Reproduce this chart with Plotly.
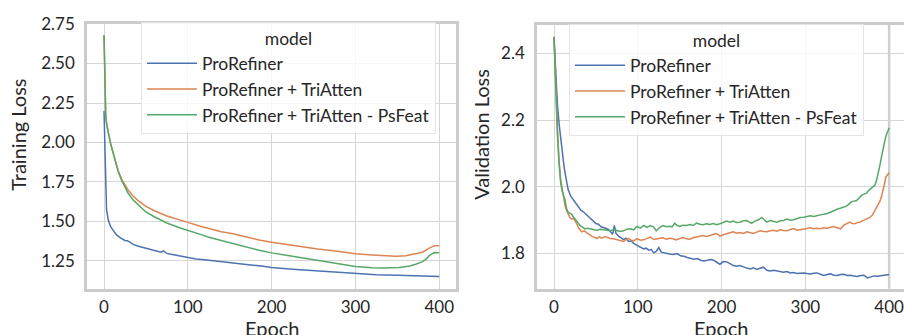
import plotly.graph_objects as go

# ---------------- data ----------------
names = ["ProRefiner", "ProRefiner + TriAtten", "ProRefiner + TriAtten - PsFeat"]
colors = ["#4c72b0", "#dd8452", "#55a868"]

# Training loss
tr_blue_ep = [0, 1, 2, 3, 4, 5, 8, 10, 13, 15, 20, 25, 28, 30, 35, 40, 45, 50, 55, 60, 65, 68, 70, 71, 73, 75, 80, 90,
              100, 110, 120, 130, 140, 150, 160, 175, 190, 200, 225, 250, 275, 300, 325, 350, 375, 400]
tr_blue = [2.199, 1.95, 1.62, 1.575, 1.545, 1.51, 1.465, 1.45, 1.425, 1.415, 1.395, 1.38, 1.378, 1.37, 1.355, 1.345,
           1.338, 1.33, 1.322, 1.315, 1.31, 1.305, 1.31, 1.315, 1.305, 1.298, 1.292, 1.282,
           1.272, 1.263, 1.257, 1.252, 1.246, 1.24, 1.233, 1.225, 1.216, 1.209, 1.198, 1.189, 1.178, 1.169, 1.163,
           1.159, 1.156, 1.152]

tr_orange_ep = [0, 1, 2, 3, 5, 8, 10, 13, 17, 21, 25, 29, 35, 40, 50, 60, 75, 90, 100, 115, 125, 140, 154, 170, 185,
                200, 215, 234, 255, 274, 300, 320, 332, 348, 360, 372, 380, 388, 394, 400]
tr_orange = [2.679, 2.30, 2.18, 2.12, 2.06, 1.99, 1.951, 1.89, 1.82, 1.768, 1.728, 1.697, 1.66, 1.635, 1.596, 1.568,
             1.535, 1.508, 1.494, 1.4695, 1.455, 1.435, 1.4226, 1.40, 1.383, 1.368, 1.356, 1.341, 1.326, 1.315,
             1.296, 1.288, 1.284, 1.28, 1.283, 1.294, 1.305, 1.331, 1.345, 1.347]

tr_green_ep = [0, 1, 2, 3, 5, 8, 10, 13, 17, 21, 25, 29, 35, 40, 50, 60, 75, 90, 100, 115, 125, 140, 154, 170, 185,
               200, 215, 234, 255, 274, 300, 320, 332, 352, 365, 372, 380, 385, 388, 394, 400]
tr_green = [2.679, 2.30, 2.18, 2.12, 2.06, 1.99, 1.951, 1.885, 1.815, 1.76, 1.717, 1.677, 1.635, 1.61, 1.56, 1.53,
            1.49, 1.46, 1.445, 1.418, 1.40, 1.38, 1.357, 1.336, 1.318, 1.301, 1.288, 1.27, 1.253, 1.235, 1.215,
            1.207, 1.205, 1.208, 1.218, 1.229, 1.246, 1.265, 1.284, 1.303, 1.302]

# Validation loss
va_blue_ep = [0, 2, 4, 6, 8, 10, 12, 14, 17, 20, 23, 26, 29, 32, 35, 38, 41, 44, 47, 50, 53, 56, 59, 62, 65, 68, 70,
              72, 74, 77, 80, 83, 86, 89, 92, 95, 98, 101, 104, 107, 110, 113, 116, 119, 122, 125, 128, 131, 135,
              139, 143, 147, 151, 155, 159, 163, 167, 171, 175, 179, 183, 187, 191, 195, 198, 202, 206, 210, 214,
              218, 222, 226, 230, 234, 238, 242, 246, 250, 254, 258, 262, 266, 270, 274, 278, 282, 286, 290, 294,
              298, 302, 306, 310, 314, 318, 322, 326, 330, 334, 338, 342, 346, 350, 354, 358, 362, 366, 370, 374,
              378, 382, 386, 390, 394, 398, 400]
va_blue = [2.449, 2.33, 2.25, 2.19, 2.14, 2.10, 2.06, 2.03, 1.99, 1.972, 1.962, 1.952, 1.940, 1.930, 1.925, 1.918,
           1.912, 1.905, 1.898, 1.890, 1.888, 1.880, 1.878, 1.874, 1.872, 1.864, 1.858,
           1.884, 1.860, 1.852, 1.848, 1.842, 1.846, 1.836, 1.838, 1.830, 1.826, 1.822, 1.818, 1.814, 1.816, 1.810,
           1.812, 1.802, 1.806, 1.818, 1.804, 1.802, 1.800,
           1.798, 1.797, 1.800, 1.793, 1.792, 1.788, 1.786, 1.783, 1.785, 1.780, 1.778, 1.780, 1.782, 1.779, 1.772,
           1.768, 1.776, 1.775, 1.770, 1.764,
           1.762, 1.764, 1.760, 1.758, 1.754, 1.757, 1.752, 1.756, 1.759, 1.750, 1.748, 1.750, 1.748, 1.746, 1.744,
           1.746, 1.742, 1.743, 1.740, 1.741,
           1.742, 1.740, 1.739, 1.741, 1.742, 1.738, 1.734, 1.737, 1.739, 1.735, 1.734, 1.737, 1.738, 1.734, 1.735,
           1.733, 1.731, 1.734, 1.735, 1.727,
           1.731, 1.733, 1.732, 1.734, 1.735, 1.736, 1.737]

va_orange_ep = [0, 2, 4, 6, 8, 11, 13, 15, 17, 19, 21, 23, 25, 27, 29, 31, 33, 36, 39, 42, 45, 48, 51, 54, 57, 61,
                64, 67, 71, 75, 79, 83, 86, 89, 92, 95, 99, 103, 107, 111, 115, 119, 123, 127, 130, 134, 138, 142,
                146, 150, 154, 158, 162, 166, 170, 174, 178, 182, 186, 190, 194, 198, 202, 206, 210, 214, 218, 222,
                226, 230, 234, 238, 242, 246, 250, 254, 258, 262, 266, 270, 274, 278, 282, 286, 290, 294, 298, 302,
                306, 310, 314, 318, 322, 326, 330, 334, 338, 342, 346, 350, 353, 356, 359, 362, 365, 368, 371, 374,
                377, 380, 383, 386, 389, 391, 393, 395, 396, 398, 400]
va_orange = [2.449, 2.30, 2.18, 2.08, 2.02, 1.976, 1.945, 1.928, 1.915, 1.908, 1.903, 1.906, 1.899, 1.888, 1.879,
             1.872, 1.865, 1.868, 1.863, 1.856, 1.852, 1.849, 1.845, 1.850, 1.846, 1.851,
             1.847, 1.845, 1.844, 1.841, 1.838, 1.836, 1.842, 1.845, 1.840, 1.838, 1.845, 1.840, 1.841, 1.844, 1.849,
             1.842, 1.843, 1.846, 1.847, 1.843, 1.846, 1.844,
             1.841, 1.845, 1.848, 1.844, 1.843, 1.847, 1.849, 1.852, 1.854, 1.851, 1.853, 1.857, 1.860, 1.852, 1.856,
             1.860, 1.862, 1.865, 1.861, 1.863,
             1.860, 1.865, 1.863, 1.860, 1.864, 1.868, 1.866, 1.865, 1.868, 1.870, 1.867, 1.871, 1.869, 1.868, 1.872,
             1.875, 1.870, 1.871, 1.874, 1.875,
             1.877, 1.874, 1.876, 1.874, 1.877, 1.876, 1.879, 1.881, 1.877, 1.874, 1.885, 1.889, 1.894, 1.890, 1.889,
             1.893, 1.894, 1.898, 1.901, 1.904,
             1.908, 1.915, 1.928, 1.942, 1.957, 1.972, 1.990, 2.015, 2.029, 2.037, 2.042]

va_green_ep = [0, 2, 4, 6, 8, 10, 13, 15, 17, 19, 21, 23, 25, 28, 31, 34, 37, 40, 43, 47, 51, 55, 59, 63, 67, 71, 75,
               79, 83, 87, 91, 95, 99, 103, 107, 111, 115, 119, 122, 126, 130, 134, 138, 141, 144, 147, 150, 154, 158,
               162, 166, 170, 174, 178, 182, 186, 190, 194, 198, 202, 206, 210, 214, 218, 222, 226, 230, 234, 236,
               240, 244, 248, 251, 254, 258, 262, 266, 270, 274, 278, 282, 286, 290, 294, 298, 302, 306, 310, 314,
               318, 322, 326, 330, 334, 337, 340, 343, 346, 349, 352, 355, 358, 361, 364, 367, 370, 373, 376, 379,
               383, 385, 387, 389, 391, 393, 395, 397, 399, 400]
va_green = [2.449, 2.28, 2.16, 2.07, 2.01, 1.985, 1.961, 1.935, 1.923, 1.920, 1.918, 1.910, 1.903, 1.893, 1.884, 1.879,
            1.874, 1.876, 1.874, 1.872, 1.870, 1.873, 1.871, 1.869, 1.868, 1.872, 1.869,
            1.866, 1.868, 1.873, 1.874, 1.871, 1.881, 1.876, 1.884, 1.878, 1.884, 1.879, 1.868, 1.878, 1.884, 1.880,
            1.882, 1.880, 1.891, 1.884, 1.881, 1.885, 1.884,
            1.887, 1.884, 1.891, 1.888, 1.886, 1.889, 1.887, 1.890, 1.886, 1.889, 1.893, 1.897, 1.894, 1.897, 1.893,
            1.894, 1.898, 1.899, 1.893, 1.891,
            1.897, 1.901, 1.908, 1.900, 1.894, 1.899, 1.897, 1.894, 1.898, 1.899, 1.903, 1.900, 1.901, 1.905, 1.908,
            1.909, 1.910, 1.913, 1.911, 1.914,
            1.916, 1.918, 1.920, 1.923, 1.928, 1.932, 1.934, 1.937, 1.940, 1.942, 1.948, 1.955, 1.957, 1.959, 1.966,
            1.974, 1.978, 1.981, 1.990, 1.997,
            2.005, 2.020, 2.039, 2.065, 2.092, 2.118, 2.140, 2.158, 2.171, 2.176]

x_ticks = [0, 100, 200, 300, 400]
tr_ticks = [1.25, 1.50, 1.75, 2.00, 2.25, 2.50, 2.75]
va_ticks = [1.8, 2.0, 2.2, 2.4]

# ---------------- figure ----------------
W, H = 904, 335
FONT = "Lato"
TXT = "#262626"
GRID = "#d6d6d6"
FRAME = "#cccccc"

fig = go.Figure()

train_sets = [(tr_blue_ep, tr_blue), (tr_orange_ep, tr_orange), (tr_green_ep, tr_green)]
val_sets = [(va_blue_ep, va_blue), (va_orange_ep, va_orange), (va_green_ep, va_green)]

for i, (ex, ey) in enumerate(train_sets):
    fig.add_trace(go.Scatter(x=ex, y=ey, mode="lines", name=names[i],
                             line=dict(color=colors[i], width=1.5),
                             xaxis="x", yaxis="y", legend="legend",
                             legendgroup="a%d" % i))
for i, (ex, ey) in enumerate(val_sets):
    fig.add_trace(go.Scatter(x=ex, y=ey, mode="lines", name=names[i],
                             line=dict(color=colors[i], width=1.5),
                             xaxis="x2", yaxis="y2", legend="legend2",
                             legendgroup="b%d" % i))

def px_x(p):
    return p / W

def px_y(p):
    return 1 - p / H

axis_common = dict(showgrid=True, gridcolor=GRID, gridwidth=1.2, zeroline=False,
                   ticks="", showline=True, linecolor=FRAME, linewidth=2.5,
                   ticklabeloverflow="allow",
                   tickfont=dict(family=FONT, size=17, color=TXT))

legend_common = dict(bgcolor="rgba(255,255,255,0.8)", bordercolor="#e4e4e4", borderwidth=1,
                     font=dict(family=FONT, size=17.5, color=TXT),
                     title=dict(text="model", side="top center", font=dict(family=FONT, size=17.5, color=TXT)),
                     xanchor="left", yanchor="top", itemwidth=50, tracegroupgap=0)

fig.update_layout(
    width=W, height=H,
    margin=dict(l=0, r=0, t=0, b=0),
    paper_bgcolor="white", plot_bgcolor="white",
    font=dict(family=FONT, size=17, color=TXT),
    xaxis=dict(domain=[px_x(87), px_x(456)], range=[-20.3, 420], tickvals=x_ticks, mirror=True,
               anchor="y", ticklabelstandoff=1, **axis_common),
    yaxis=dict(domain=[px_y(287), px_y(13)], range=[1.075, 2.753], tickvals=tr_ticks, tickformat=".2f",
               mirror=True, anchor="x", ticklabelstandoff=6, **axis_common),
    xaxis2=dict(domain=[px_x(537), 1.0], range=[-20.3, 417.7], tickvals=x_ticks, mirror=True,
                anchor="y2", ticklabelstandoff=1, **axis_common),
    yaxis2=dict(domain=[px_y(287), px_y(14)], range=[1.695, 2.486], tickvals=va_ticks, tickformat=".1f",
                mirror=False, anchor="x2", ticklabelstandoff=6, **axis_common),
    legend=dict(x=px_x(141), y=px_y(11), **legend_common),
    legend2=dict(x=px_x(569), y=px_y(13), **legend_common),
    showlegend=True,
)

# right-hand gridline at 400 in the right panel appears heavier
fig.add_shape(type="line", xref="x2", yref="y2 domain", x0=400, x1=400, y0=0, y1=1,
              line=dict(color=FRAME, width=2.5), layer="below")

ann_font = dict(family=FONT, size=20, color=TXT)
fig.add_annotation(text="Training Loss", xref="paper", yref="paper", x=px_x(18), y=px_y(128),
                   textangle=-90, showarrow=False, xanchor="center", yanchor="middle", font=ann_font)
fig.add_annotation(text="Validation Loss", xref="paper", yref="paper", x=px_x(481.5), y=px_y(127.5),
                   textangle=-90, showarrow=False, xanchor="center", yanchor="middle", font=ann_font)
fig.add_annotation(text="Epoch", xref="paper", yref="paper", x=px_x(272), y=px_y(313),
                   showarrow=False, xanchor="center", yanchor="top", font=ann_font)
fig.add_annotation(text="Epoch", xref="paper", yref="paper", x=px_x(721), y=px_y(313),
                   showarrow=False, xanchor="center", yanchor="top", font=ann_font)

fig.write_html("out.html", config={"displayModeBar": False},
               post_script="document.body.style.margin='0px';document.body.style.overflow='hidden';")
